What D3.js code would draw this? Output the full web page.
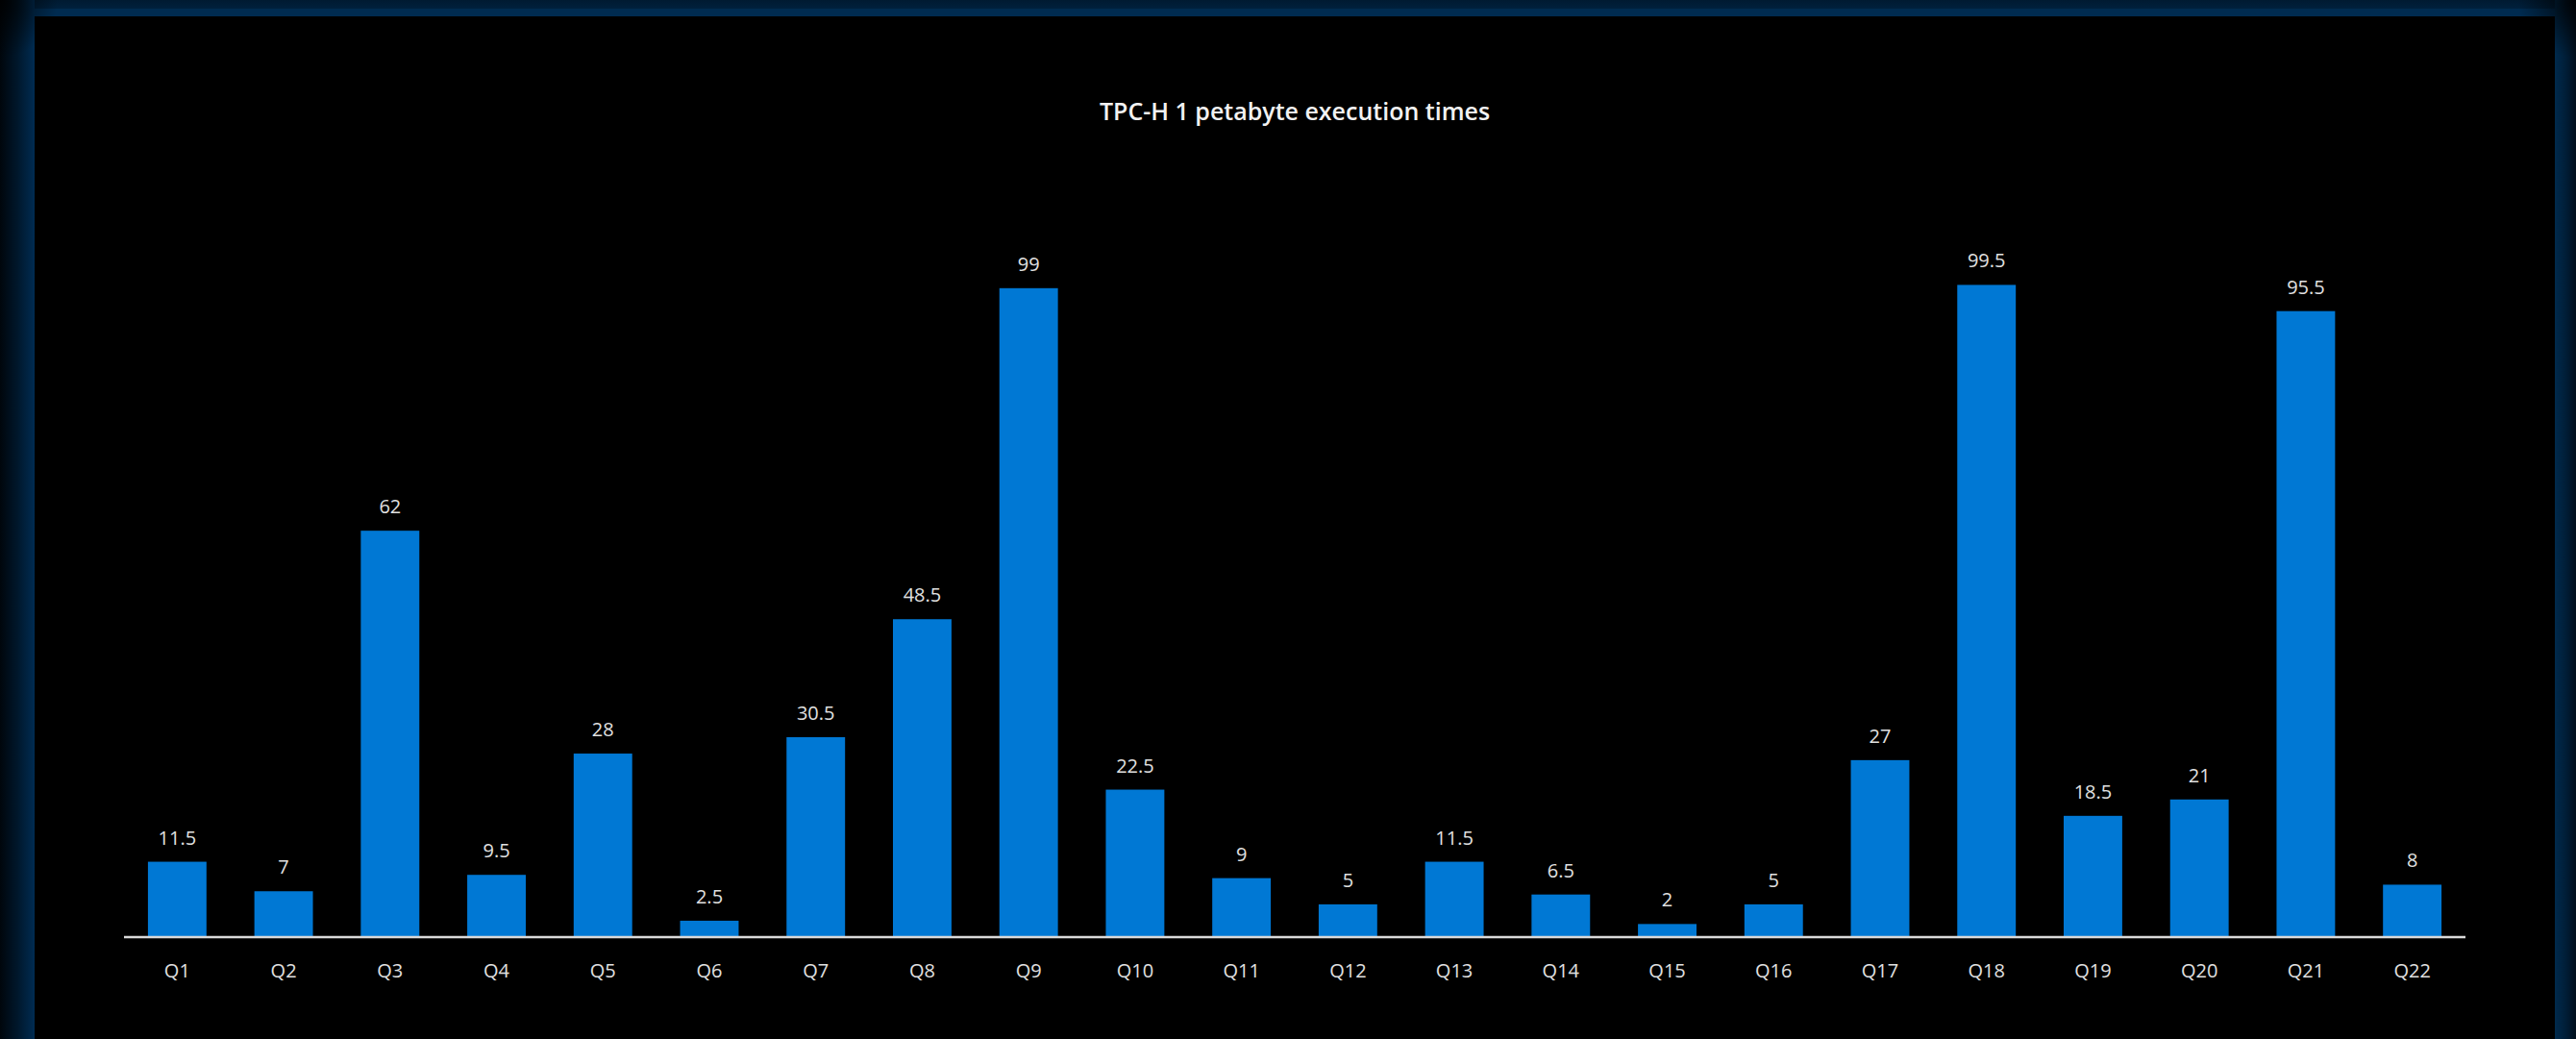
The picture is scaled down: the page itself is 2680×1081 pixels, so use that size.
<!DOCTYPE html>
<html>
<head>
<meta charset="utf-8">
<script src="https://cdn.jsdelivr.net/npm/d3@7"></script>
<style>
  html, body { margin: 0; padding: 0; background: #000; overflow: hidden; }
  svg { display: block; }
</style>
</head>
<body>
<svg id="chart" width="2680" height="1081"></svg>
<script>
const title = "TPC-H 1 petabyte execution times";
const categories = ["Q1","Q2","Q3","Q4","Q5","Q6","Q7","Q8","Q9","Q10","Q11","Q12","Q13","Q14","Q15","Q16","Q17","Q18","Q19","Q20","Q21","Q22"];
const values = [11.5, 7, 62, 9.5, 28, 2.5, 30.5, 48.5, 99, 22.5, 9, 5, 11.5, 6.5, 2, 5, 27, 99.5, 18.5, 21, 95.5, 8];
const valueLabels = values.map(v => String(v));

const W = 2680, H = 1081;
const svg = d3.select("#chart");
const defs = svg.append("defs");

// background
svg.append("rect").attr("width", W).attr("height", H).attr("fill", "#000");

// frame gradients
const gl = defs.append("linearGradient").attr("id", "gLeft").attr("x1", 0).attr("x2", 1).attr("y1", 0).attr("y2", 0);
gl.append("stop").attr("offset", "0%").attr("stop-color", "#00060c");
gl.append("stop").attr("offset", "50%").attr("stop-color", "#00172b");
gl.append("stop").attr("offset", "100%").attr("stop-color", "#002c52");
const gr = defs.append("linearGradient").attr("id", "gRight").attr("x1", 0).attr("x2", 1).attr("y1", 0).attr("y2", 0);
gr.append("stop").attr("offset", "0%").attr("stop-color", "#002a4d");
gr.append("stop").attr("offset", "50%").attr("stop-color", "#001e38");
gr.append("stop").attr("offset", "100%").attr("stop-color", "#000f1d");
const gt = defs.append("linearGradient").attr("id", "gTop").attr("x1", 0).attr("x2", 0).attr("y1", 0).attr("y2", 1);
gt.append("stop").attr("offset", "0%").attr("stop-color", "#001a31");
gt.append("stop").attr("offset", "50%").attr("stop-color", "#00203c");
gt.append("stop").attr("offset", "55%").attr("stop-color", "#002b50");
gt.append("stop").attr("offset", "100%").attr("stop-color", "#002b50");

const innerL = 36, innerR = 2658, innerT = 17;
svg.append("rect").attr("x", 0).attr("y", 0).attr("width", W).attr("height", innerT).attr("fill", "url(#gTop)");
svg.append("rect").attr("x", 0).attr("y", 0).attr("width", innerL).attr("height", H).attr("fill", "url(#gLeft)");
svg.append("rect").attr("x", innerR).attr("y", 0).attr("width", W - innerR).attr("height", H).attr("fill", "url(#gRight)");
// corner darkening
const gc = defs.append("radialGradient").attr("id", "gCorner");
gc.append("stop").attr("offset", "0%").attr("stop-color", "#000").attr("stop-opacity", 0.85);
gc.append("stop").attr("offset", "100%").attr("stop-color", "#000").attr("stop-opacity", 0);
svg.append("circle").attr("cx", 0).attr("cy", 0).attr("r", 60).attr("fill", "url(#gCorner)");
svg.append("circle").attr("cx", W).attr("cy", 0).attr("r", 60).attr("fill", "url(#gCorner)");
svg.append("rect").attr("x", innerL).attr("y", innerT).attr("width", innerR - innerL).attr("height", H - innerT).attr("fill", "#000");

// scales
const x = d3.scaleBand().domain(categories).range([129, 2565]).paddingInner(0.45).paddingOuter(0.225);
const y = d3.scaleLinear().domain([0, 100]).range([975, 293]);

// title
svg.append("text")
  .attr("x", (innerL + innerR) / 2)
  .attr("y", 125)
  .attr("text-anchor", "middle")
  .attr("font-family", "'Open Sans', 'Noto Sans', sans-serif")
  .attr("font-weight", 600)
  .attr("font-size", 25)
  .attr("fill", "#f2f2f2")
  .text(title);

// bars
svg.append("g").selectAll("rect")
  .data(categories)
  .join("rect")
  .attr("x", d => x(d))
  .attr("width", x.bandwidth())
  .attr("y", (d, i) => y(values[i]))
  .attr("height", (d, i) => y(0) - y(values[i]))
  .attr("fill", "#0078d4");

// value labels
svg.append("g").selectAll("text")
  .data(categories)
  .join("text")
  .attr("x", d => x(d) + x.bandwidth() / 2)
  .attr("y", (d, i) => y(values[i]) - 18)
  .attr("text-anchor", "middle")
  .attr("font-family", "'Open Sans', 'Noto Sans', sans-serif")
  .attr("font-size", 20)
  .attr("fill", "#e0e0e0")
  .text((d, i) => valueLabels[i]);

// x axis
const axis = svg.append("g").attr("transform", `translate(0,${y(0)})`)
  .call(d3.axisBottom(x).tickSize(0).tickPadding(28));
axis.select(".domain").attr("stroke", "#d9d9d9").attr("stroke-width", 2.5)
  .attr("d", "M129,0H2565");
axis.selectAll("text")
  .attr("font-family", "'Open Sans', 'Noto Sans', sans-serif")
  .attr("font-size", 20)
  .attr("fill", "#e0e0e0");
</script>
</body>
</html>
